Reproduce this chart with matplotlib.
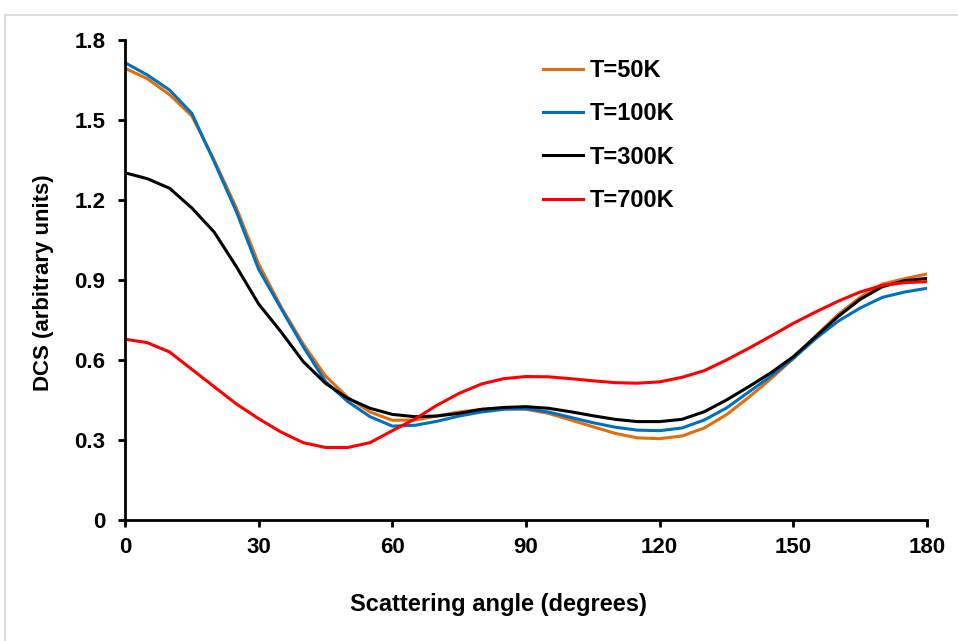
import numpy as np
import matplotlib.pyplot as plt
from matplotlib.lines import Line2D

# Scattering angle (degrees)
angle = np.arange(0, 181, 5)

# DCS values (arbitrary units)
dcs_50k = [1.694, 1.655, 1.595, 1.515, 1.35, 1.17, 0.96, 0.80, 0.66, 0.54,
           0.46, 0.405, 0.374, 0.375, 0.39, 0.405, 0.415, 0.418, 0.415, 0.40,
           0.375, 0.35, 0.325, 0.308, 0.305, 0.315, 0.345, 0.395, 0.46, 0.53,
           0.606, 0.69, 0.77, 0.835, 0.885, 0.905, 0.9225]
dcs_100k = [1.715, 1.669, 1.6125, 1.525, 1.344, 1.156, 0.94, 0.794, 0.65, 0.519,
            0.444, 0.3875, 0.352, 0.355, 0.37, 0.39, 0.405, 0.415, 0.418, 0.405,
            0.385, 0.365, 0.348, 0.337, 0.335, 0.345, 0.375, 0.42, 0.48, 0.54,
            0.606, 0.68, 0.745, 0.795, 0.835, 0.855, 0.869]
dcs_300k = [1.302, 1.28, 1.244, 1.17, 1.08, 0.95, 0.81, 0.706, 0.594, 0.5125,
            0.456, 0.419, 0.396, 0.3875, 0.39, 0.40, 0.415, 0.422, 0.425, 0.419,
            0.406, 0.391, 0.3775, 0.369, 0.369, 0.3775, 0.406, 0.45, 0.50, 0.5525,
            0.6125, 0.6875, 0.7625, 0.8275, 0.875, 0.8975, 0.906]
dcs_700k = [0.678, 0.665, 0.63, 0.565, 0.50, 0.435, 0.38, 0.33, 0.29, 0.272,
            0.272, 0.29, 0.335, 0.378, 0.43, 0.475, 0.51, 0.53, 0.538, 0.537,
            0.53, 0.522, 0.515, 0.513, 0.518, 0.535, 0.56, 0.60, 0.644, 0.69,
            0.7375, 0.78, 0.82, 0.855, 0.88, 0.89, 0.894]

labels = ['T=50K', 'T=100K', 'T=300K', 'T=700K']
colors = ['#E46C0A', '#0070C0', '#000000', '#FF0000']

plt.rcParams['font.family'] = ['Liberation Sans', 'DejaVu Sans']
plt.rcParams['font.weight'] = 'bold'

fig = plt.figure(figsize=(9.58, 6.41), dpi=100)
ax = fig.add_axes([125/958, 1 - 520/641, (927 - 125)/958, (520 - 40)/641])

# faint frame lines around the picture
fig.add_artist(Line2D([5/958, 1], [1 - 15/641] * 2, color='#dddddd', lw=1.5))
fig.add_artist(Line2D([5/958] * 2, [0, 1 - 15/641], color='#dddddd', lw=1.5))

for y, lab, c in zip([dcs_50k, dcs_100k, dcs_300k, dcs_700k], labels, colors):
    ax.plot(angle, y, color=c, lw=2.2, label=lab, solid_joinstyle='round')

ax.set_xlim(0, 180)
ax.set_ylim(0, 1.8)
ax.set_xticks(np.arange(0, 181, 30))
ax.set_yticks([0, 0.3, 0.6, 0.9, 1.2, 1.5, 1.8])
ax.set_yticklabels(['0', '0.3', '0.6', '0.9', '1.2', '1.5', '1.8'])
ax.spines['top'].set_visible(False)
ax.spines['right'].set_visible(False)
for s in ['left', 'bottom']:
    ax.spines[s].set_linewidth(2)
ax.tick_params(width=2, length=5, labelsize=16)
ax.tick_params(axis='y', pad=9)
ax.tick_params(axis='x', pad=7)

ax.set_xlabel('Scattering angle (degrees)', fontsize=17, fontweight='bold')
ax.set_ylabel('DCS (arbitrary units)', fontsize=16, fontweight='bold')
ax.xaxis.set_label_coords(0.466, -0.152)
ax.yaxis.set_label_coords(-0.088, 0.494)

ax.legend(loc='upper left', bbox_to_anchor=(543/958, 1 - 59/641),
          bbox_transform=fig.transFigure, frameon=False, fontsize=17,
          handlelength=1.7, handletextpad=0.3, labelspacing=0.86,
          borderpad=0, borderaxespad=0)

fig.savefig('out.png', dpi=100, facecolor='white')
